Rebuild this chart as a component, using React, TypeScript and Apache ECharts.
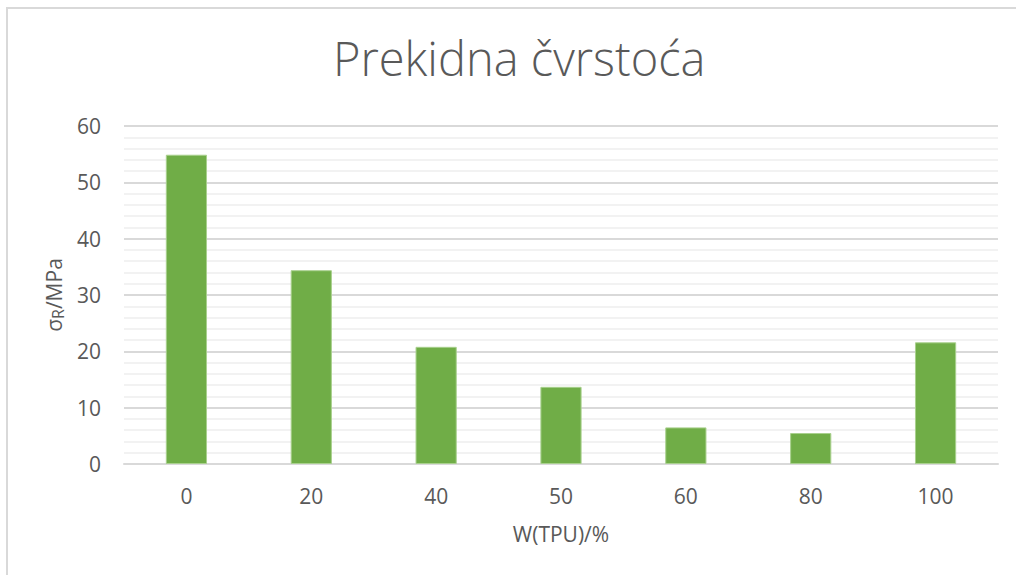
import React, { useEffect, useRef } from "react";
import * as echarts from "echarts";

const categories = ["0", "20", "40", "50", "60", "80", "100"];
const strengthValues = [54.9, 34.4, 20.8, 13.7, 6.5, 5.5, 21.6];
const yTicks = { min: 0, max: 60, interval: 10 };
const titleText = "Prekidna čvrstoća";
const xName = "W(TPU)/%";

export default function App() {
  const ref = useRef<HTMLDivElement>(null);
  useEffect(() => {
    document.body.style.margin = "0";
    const chart = echarts.init(ref.current!, null, { renderer: "svg" });
    const font = "'Open Sans', 'DejaVu Sans', sans-serif";
    chart.setOption({
      animation: false,
      backgroundColor: "#ffffff",
      title: {
        text: titleText,
        left: 333,
        top: 34,
        padding: 0,
        textStyle: {
          fontFamily: font,
          fontWeight: 300,
          fontSize: 47,
          color: "#595959",
        },
      },
      graphic: [
        {
          type: "rect",
          shape: { x: 7, y: 8, width: 1100, height: 700 },
          style: { fill: "none", stroke: "#d9d9d9", lineWidth: 2 },
          silent: true,
        },
      ],
      grid: { left: 124, right: 18, top: 126, bottom: 111, containLabel: false },
      xAxis: {
        type: "category",
        data: categories,
        name: xName,
        nameLocation: "middle",
        nameGap: 59,
        nameTextStyle: { fontFamily: font, fontSize: 21, color: "#595959" },
        axisLine: { show: true, lineStyle: { color: "#d9d9d9", width: 2 } },
        axisTick: { show: false },
        axisLabel: { fontFamily: font, fontSize: 21, color: "#595959", margin: 21 },
      },
      yAxis: {
        type: "value",
        min: yTicks.min,
        max: yTicks.max,
        interval: yTicks.interval,
        name: "{a|σ}{b|R}{a|/MPa}",
        nameLocation: "middle",
        nameRotate: 90,
        nameGap: 56,
        nameTextStyle: {
          fontFamily: font,
          fontSize: 21,
          color: "#595959",
          rich: {
            a: { fontFamily: font, fontSize: 21, color: "#595959" },
            b: { fontFamily: font, fontSize: 16, color: "#595959", padding: [9, 0, 0, 0] },
          },
        },
        axisLine: { show: false },
        axisTick: { show: false },
        axisLabel: { fontFamily: font, fontSize: 21, color: "#595959", margin: 23 },
        splitLine: { show: true, lineStyle: { color: "#d9d9d9", width: 2 } },
        minorTick: { show: false, splitNumber: 5 },
        minorSplitLine: { show: true, lineStyle: { color: "#f2f2f2", width: 2 } },
      },
      series: [
        {
          type: "bar",
          data: strengthValues,
          barWidth: "33%",
          itemStyle: { color: "#70AD47", borderColor: "#a9d08e", borderWidth: 1 },
        },
      ],
    });
    return () => chart.dispose();
  }, []);
  return <div ref={ref} style={{ width: 1016, height: 575 }} />;
}
